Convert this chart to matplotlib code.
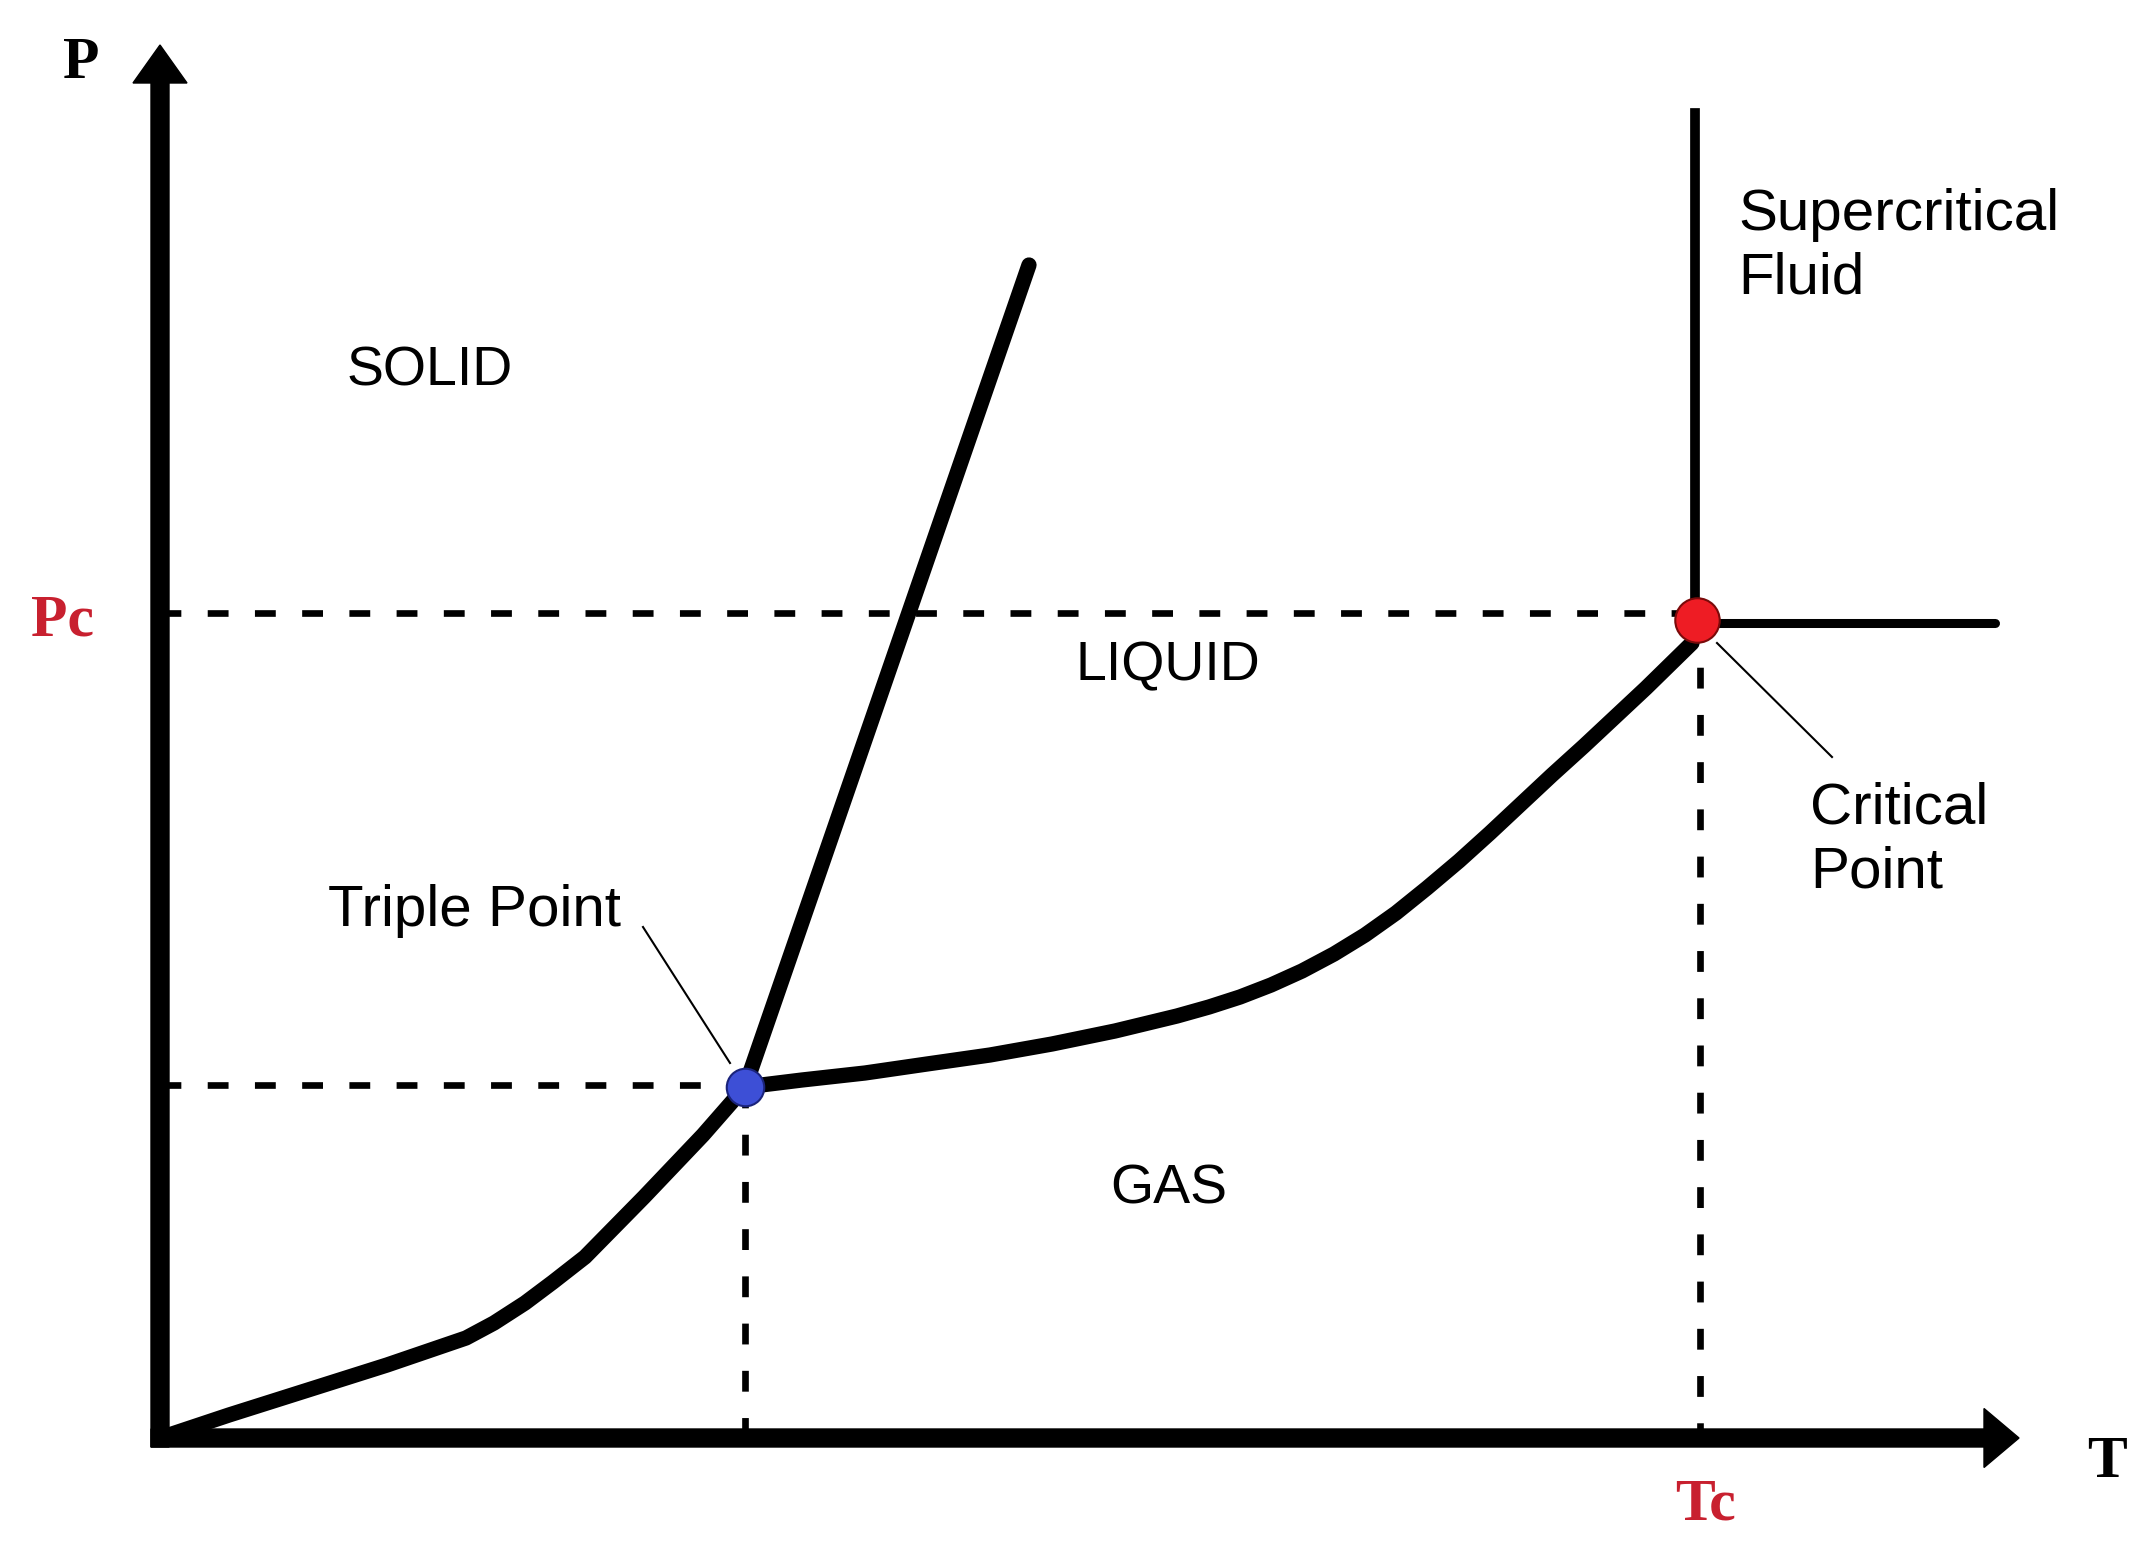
import matplotlib
matplotlib.use("Agg")
import matplotlib.pyplot as plt

plt.rcParams['lines.scale_dashes'] = False

# ---- data (T, P in drawing units; origin at axes corner) ----
sub_T = [0, 69, 148, 227, 306, 334, 365, 393, 425, 484, 543, 585]
sub_P = [0, 23, 48, 73, 100, 115, 135, 156, 181, 241, 303, 351]

vap_T = [585, 642, 705, 767, 830, 892, 955, 1017, 1049, 1080, 1111, 1142, 1174, 1205,
         1236, 1267, 1299, 1330, 1361, 1392, 1424, 1455, 1486, 1532]
vap_P = [351, 358, 365, 374, 383, 394, 407, 422, 431, 441, 453, 467, 484, 503,
         525, 550, 577, 605, 634, 663, 692, 721, 750, 795]

melt_T = [585, 869]
melt_P = [351, 1173]

triple_T, triple_P = 585, 351
crit_T, crit_P = 1537, 818
Pc_level = 825
Tc_level = 1540
triple_dash_P = 353

super_vert_T = [1535, 1535]
super_vert_P = [818, 1325]
super_horz_T = [1537, 1835]
super_horz_P = [815, 815]

region_labels = ["SOLID", "LIQUID", "GAS"]
region_T = [270, 1008, 1009]
region_P = [1053, 758, 235]

RED = '#c8202f'

fig = plt.figure(figsize=(21.52, 15.6), dpi=100)
ax = fig.add_axes([0, 0, 1, 1])
ax.set_xlim(-160, 1992)
ax.set_ylim(-122, 1438)
ax.axis('off')

sans = 'Liberation Sans'
serif = 'Liberation Serif'

# axes arrows
ax.arrow(0, -9, 0, 1402, width=18, head_width=54, head_length=38,
         length_includes_head=True, color='black', zorder=3)
ax.arrow(-9, 0, 1868, 0, width=18, head_width=59, head_length=35,
         length_includes_head=True, color='black', zorder=3)

# dashed guide lines
dash = dict(color='black', lw=4.8, dashes=(15, 19), zorder=2)
ax.plot([0, crit_T - 15], [Pc_level, Pc_level], **dash)
ax.plot([0, triple_T], [triple_dash_P, triple_dash_P], **dash)
ax.plot([triple_T, triple_T], [triple_P, 0], **dash)
ax.plot([Tc_level, Tc_level], [crit_P, 0], **dash)

# phase boundaries
curve = dict(color='black', lw=11, solid_capstyle='round', solid_joinstyle='round', zorder=4)
ax.plot(sub_T, sub_P, **curve)
ax.plot(vap_T, vap_P, **curve)
ax.plot(melt_T, melt_P, **curve)
ax.plot(super_vert_T, super_vert_P, color='black', lw=7, zorder=4)
ax.plot(super_horz_T, super_horz_P, color='black', lw=6.5, solid_capstyle='round', zorder=4)

# leader lines
ax.plot([483, 570], [511, 375], color='black', lw=1.5, zorder=3)
ax.plot([1557, 1672], [795, 681], color='black', lw=1.5, zorder=3)

# points
ax.plot([triple_T], [triple_P], 'o', ms=27, mfc='#3d4fd6', mec='#1a237a', mew=1.5, zorder=6)
ax.plot([crit_T], [crit_P], 'o', ms=32, mfc='#ee1c24', mec='#7a0a0a', mew=1.5, zorder=6)

# region labels
for lab, t, p in zip(region_labels, region_T, region_P):
    ax.text(t, p, lab, fontsize=40, family=sans, ha='center', va='baseline', zorder=7)

ax.text(168, 512, "Triple Point", fontsize=42, family=sans, ha='left', va='baseline')
ax.text(1578, 1208, "Supercritical", fontsize=42, family=sans, ha='left', va='baseline')
ax.text(1578, 1145, "Fluid", fontsize=42, family=sans, ha='left', va='baseline')
ax.text(1650, 615, "Critical", fontsize=42, family=sans, ha='left', va='baseline')
ax.text(1650, 551, "Point", fontsize=42, family=sans, ha='left', va='baseline')

# axis labels
ax.text(-79, 1360, "P", fontsize=43, family=serif, weight='bold', ha='center', va='baseline')
ax.text(1947, -39, "T", fontsize=43, family=serif, weight='bold', ha='center', va='baseline')
ax.text(-97, 803, "Pc", fontsize=43, family=serif, weight='bold', color=RED, ha='center', va='baseline')
ax.text(1546, -82, "Tc", fontsize=43, family=serif, weight='bold', color=RED, ha='center', va='baseline')

fig.savefig("out.png", dpi=100, facecolor='white')
